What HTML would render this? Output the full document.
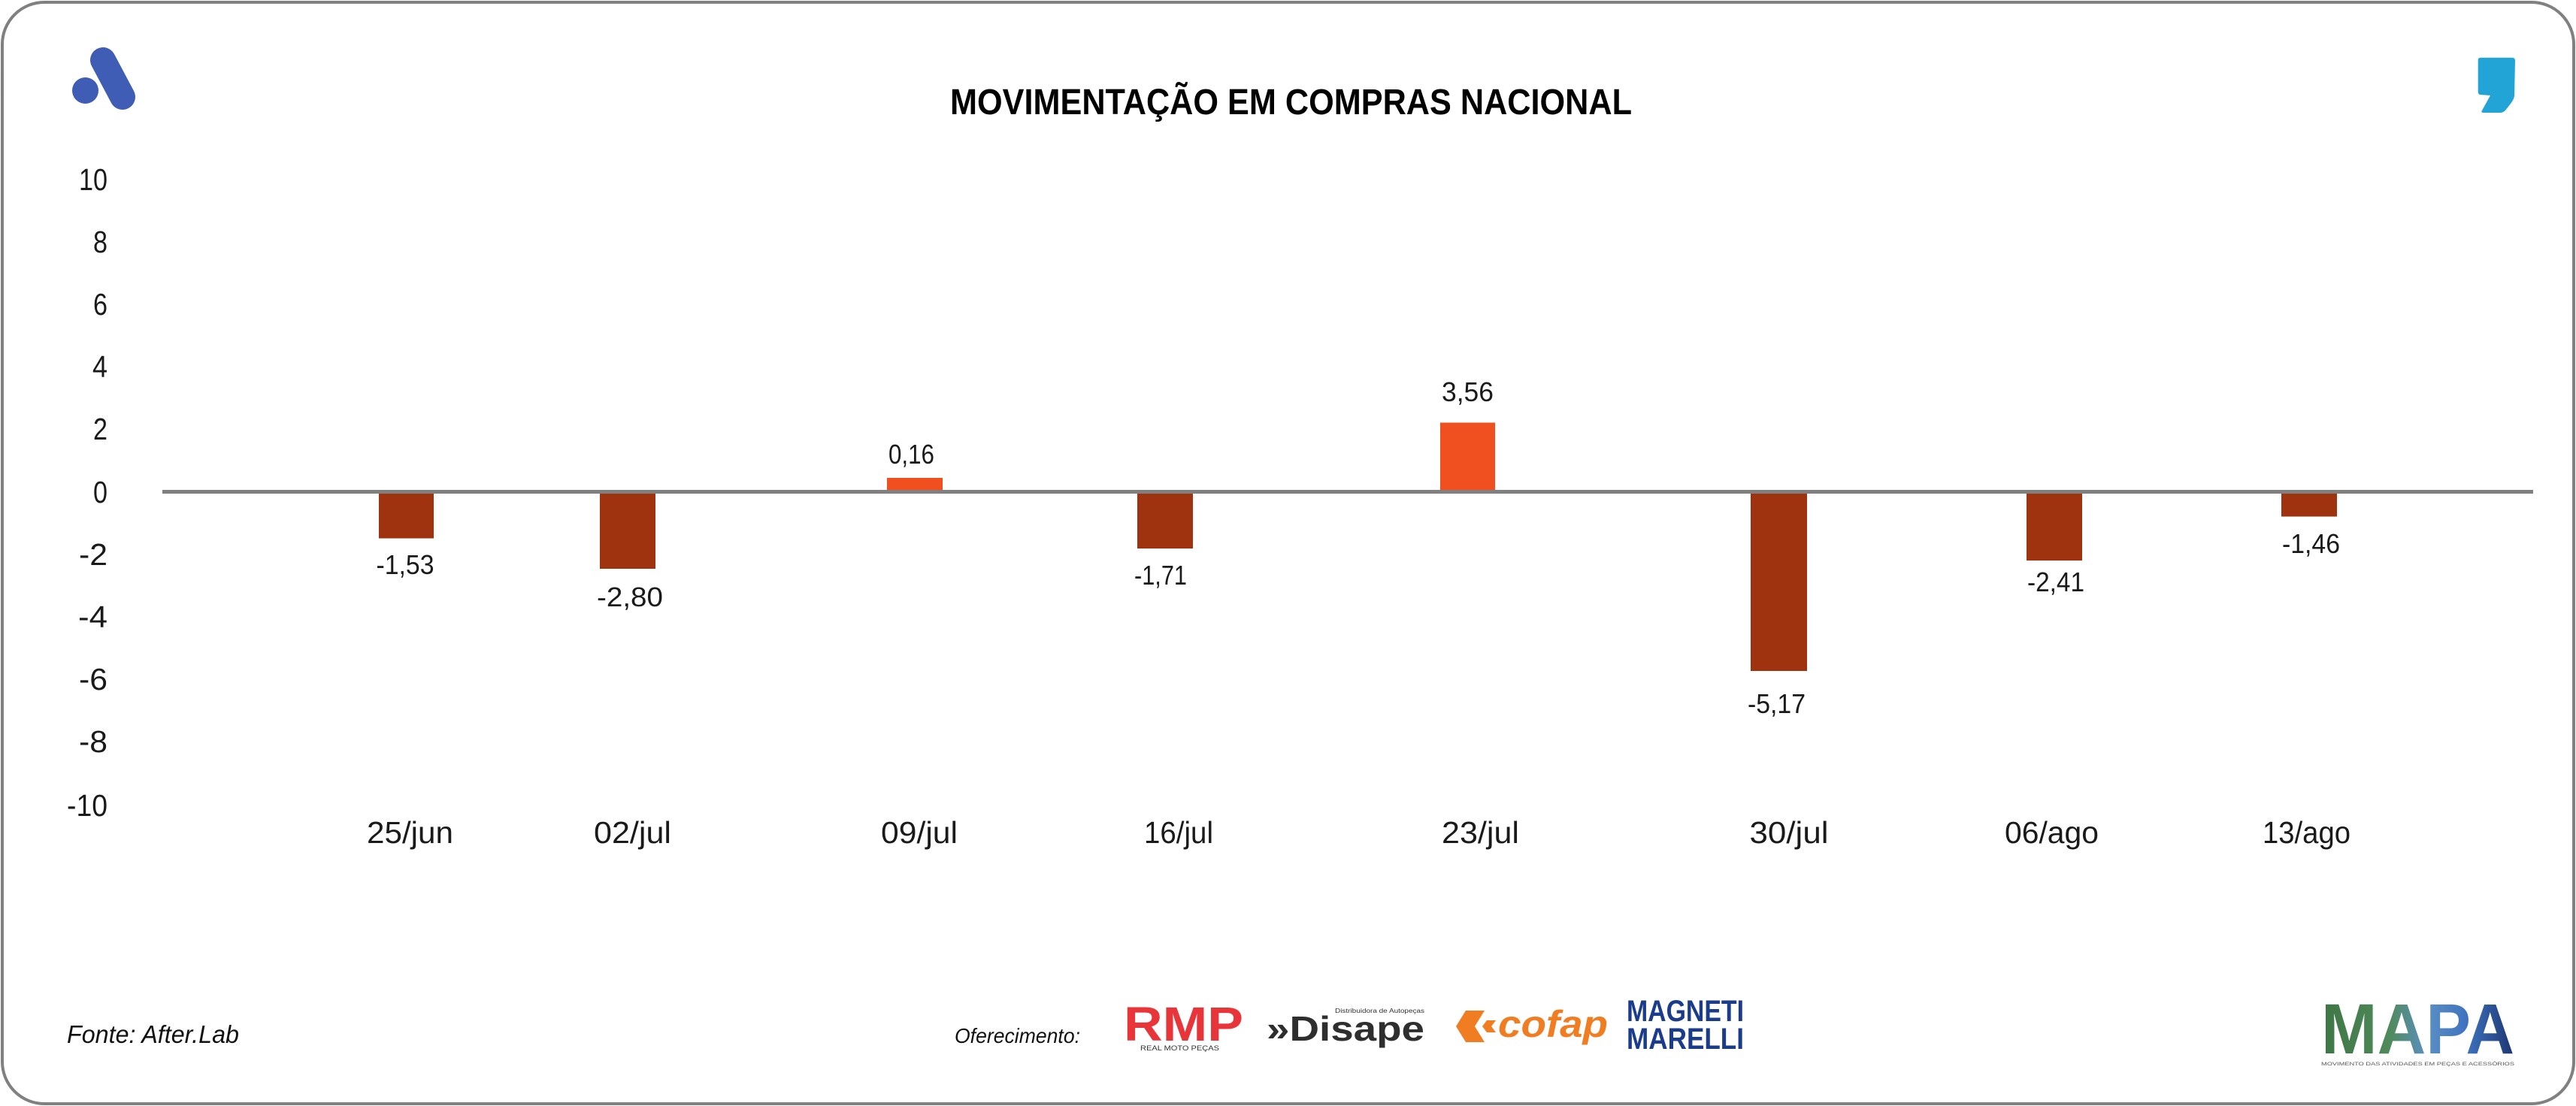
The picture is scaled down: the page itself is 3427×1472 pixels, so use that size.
<!DOCTYPE html>
<html><head><meta charset="utf-8"><style>
html,body{margin:0;padding:0;background:#fff;}
svg{display:block;}
</style></head><body>
<svg width="3427" height="1472" viewBox="0 0 3427 1472" xmlns="http://www.w3.org/2000/svg" font-family="'Liberation Sans', sans-serif">
<defs>
<linearGradient id="mapa" x1="3088" y1="0" x2="3345" y2="0" gradientUnits="userSpaceOnUse">
<stop offset="0" stop-color="#3e7545"/>
<stop offset="0.35" stop-color="#4f8a5a"/>
<stop offset="0.55" stop-color="#5b8fc4"/>
<stop offset="0.75" stop-color="#3f73c0"/>
<stop offset="1" stop-color="#1c3570"/>
</linearGradient>
</defs>
<rect x="0" y="0" width="3427" height="1472" fill="#fff"/>
<rect x="3" y="3" width="3421" height="1466" rx="56" ry="56" fill="#fff" stroke="#808080" stroke-width="4"/>

<!-- A logo -->
<circle cx="113.5" cy="120.5" r="17.5" fill="#3f5db4"/>
<line x1="137" y1="80" x2="163" y2="129" stroke="#3f5db4" stroke-width="34" stroke-linecap="round"/>

<!-- comma logo -->
<path d="M3300,76.7 L3342,76.7 Q3346,76.7 3346,80.7 L3345,128 Q3344,133 3340,138 L3333,147 Q3330,150 3326,150 L3304,150 Q3300,150 3302,147 L3313,127 L3299,126 Q3296.7,125 3296.7,122 L3296.7,80 Q3296.7,76.7 3300,76.7 Z" fill="#22a4d6"/>

<!-- title -->
<text x="1717.5" y="152" text-anchor="middle" font-size="48" font-weight="bold" fill="#000" textLength="907" lengthAdjust="spacingAndGlyphs">MOVIMENTAÇÃO EM COMPRAS NACIONAL</text>

<!-- y axis labels -->
<g font-size="41" fill="#1a1a1a" text-anchor="end">
<text x="143" y="253" textLength="38" lengthAdjust="spacingAndGlyphs">10</text>
<text x="143" y="336" textLength="19" lengthAdjust="spacingAndGlyphs">8</text>
<text x="143" y="419" textLength="19" lengthAdjust="spacingAndGlyphs">6</text>
<text x="143" y="502" textLength="20" lengthAdjust="spacingAndGlyphs">4</text>
<text x="143" y="585" textLength="19" lengthAdjust="spacingAndGlyphs">2</text>
<text x="143" y="669" textLength="19" lengthAdjust="spacingAndGlyphs">0</text>
<text x="143" y="752" textLength="38" lengthAdjust="spacingAndGlyphs">-2</text>
<text x="143" y="835" textLength="39" lengthAdjust="spacingAndGlyphs">-4</text>
<text x="143" y="918" textLength="38" lengthAdjust="spacingAndGlyphs">-6</text>
<text x="143" y="1001" textLength="38" lengthAdjust="spacingAndGlyphs">-8</text>
<text x="143" y="1086" textLength="54" lengthAdjust="spacingAndGlyphs">-10</text>
</g>

<!-- bars -->
<g>
<rect x="504" y="655" width="73" height="61.5" fill="#9f3310"/>
<rect x="798" y="655" width="74" height="102" fill="#9f3310"/>
<rect x="1180" y="636" width="74" height="19" fill="#f0501f"/>
<rect x="1513" y="655" width="74" height="75" fill="#9f3310"/>
<rect x="1916" y="562.5" width="73" height="92.5" fill="#f0501f"/>
<rect x="2329" y="655" width="75" height="238" fill="#9f3310"/>
<rect x="2696" y="655" width="74" height="91" fill="#9f3310"/>
<rect x="3035" y="655" width="74" height="32.5" fill="#9f3310"/>
</g>
<line x1="216" y1="654.5" x2="3370" y2="654.5" stroke="#808080" stroke-width="5"/>

<!-- data labels -->
<g font-size="36" fill="#1a1a1a" text-anchor="middle">
<text x="539" y="764" textLength="77" lengthAdjust="spacingAndGlyphs">-1,53</text>
<text x="838" y="807" textLength="88" lengthAdjust="spacingAndGlyphs">-2,80</text>
<text x="1212.5" y="617" textLength="61" lengthAdjust="spacingAndGlyphs">0,16</text>
<text x="1544" y="778" textLength="70" lengthAdjust="spacingAndGlyphs">-1,71</text>
<text x="1952.5" y="534" textLength="69" lengthAdjust="spacingAndGlyphs">3,56</text>
<text x="2363.5" y="949" textLength="77" lengthAdjust="spacingAndGlyphs">-5,17</text>
<text x="2735" y="787" textLength="76" lengthAdjust="spacingAndGlyphs">-2,41</text>
<text x="3074.5" y="736" textLength="77" lengthAdjust="spacingAndGlyphs">-1,46</text>
</g>

<!-- x labels -->
<g font-size="41" fill="#1a1a1a" text-anchor="middle">
<text x="545.5" y="1122" textLength="115" lengthAdjust="spacingAndGlyphs">25/jun</text>
<text x="841.5" y="1122" textLength="103" lengthAdjust="spacingAndGlyphs">02/jul</text>
<text x="1223" y="1122" textLength="102" lengthAdjust="spacingAndGlyphs">09/jul</text>
<text x="1568" y="1122" textLength="92" lengthAdjust="spacingAndGlyphs">16/jul</text>
<text x="1969.5" y="1122" textLength="103" lengthAdjust="spacingAndGlyphs">23/jul</text>
<text x="2380" y="1122" textLength="105" lengthAdjust="spacingAndGlyphs">30/jul</text>
<text x="2729.5" y="1122" textLength="125" lengthAdjust="spacingAndGlyphs">06/ago</text>
<text x="3068.5" y="1122" textLength="117" lengthAdjust="spacingAndGlyphs">13/ago</text>
</g>

<!-- footer -->
<text x="89" y="1388" font-size="33" font-style="italic" fill="#111" textLength="229" lengthAdjust="spacingAndGlyphs">Fonte: After.Lab</text>
<text x="1270" y="1388" font-size="28" font-style="italic" fill="#111" textLength="167" lengthAdjust="spacingAndGlyphs">Oferecimento:</text>

<!-- RMP -->
<text x="1495" y="1385" font-size="64" font-weight="bold" fill="#e8353a" textLength="159" lengthAdjust="spacingAndGlyphs">RMP</text>
<text x="1517" y="1398" font-size="9" fill="#333" textLength="105" lengthAdjust="spacingAndGlyphs">REAL MOTO PEÇAS</text>

<!-- Disape -->
<text x="1685" y="1385" font-size="46" font-weight="bold" fill="#2e2e2e" textLength="210" lengthAdjust="spacingAndGlyphs">»Disape</text>
<text x="1776" y="1348" font-size="8" fill="#333" textLength="119" lengthAdjust="spacingAndGlyphs">Distribuidora de Autopeças</text>

<!-- cofap -->
<path d="M1950,1345 L1975,1345 L1962,1366 L1975,1387 L1950,1387 L1937,1366 Z M1978,1358 L1990,1358 L1984,1366 L1990,1374 L1978,1374 L1972,1366 Z" fill="#f07d22"/>
<text x="1993" y="1380" font-size="50" font-weight="bold" font-style="italic" fill="#f07d22" textLength="146" lengthAdjust="spacingAndGlyphs">cofap</text>

<!-- Magneti Marelli -->
<text x="2164" y="1359" font-size="40" font-weight="bold" fill="#1b3b8b" textLength="156" lengthAdjust="spacingAndGlyphs">MAGNETI</text>
<text x="2164" y="1396" font-size="40" font-weight="bold" fill="#1b3b8b" textLength="156" lengthAdjust="spacingAndGlyphs">MARELLI</text>

<!-- MAPA -->
<text x="3088" y="1402" font-size="95" font-weight="bold" fill="url(#mapa)" textLength="257" lengthAdjust="spacingAndGlyphs">MAPA</text>
<text x="3088" y="1418" font-size="6.5" fill="#555" textLength="257" lengthAdjust="spacingAndGlyphs">MOVIMENTO DAS ATIVIDADES EM PEÇAS E ACESSÓRIOS</text>
</svg>
</body></html>
